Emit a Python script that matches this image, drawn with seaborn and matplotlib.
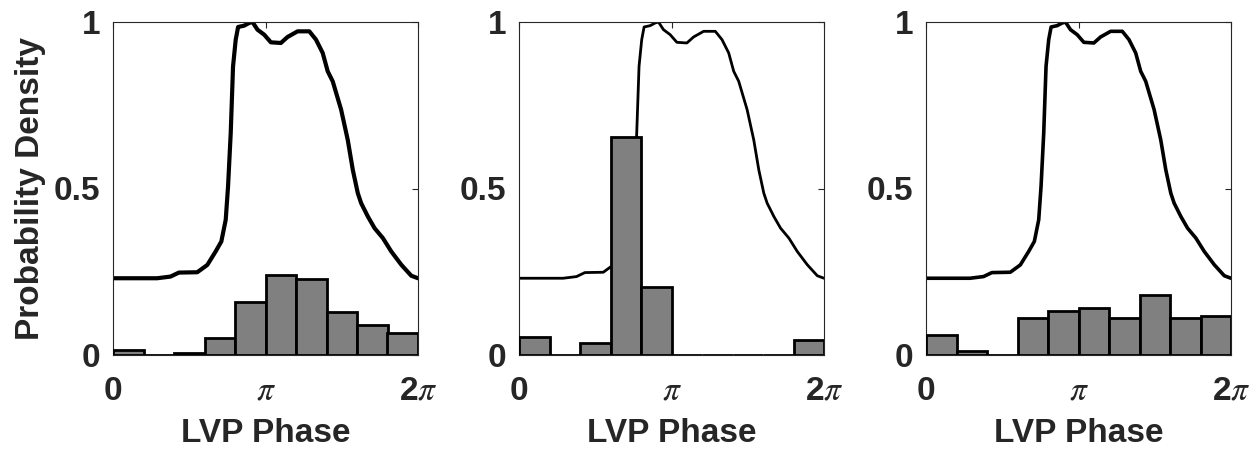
import numpy as np
import pandas as pd
import matplotlib
matplotlib.use("Agg")
import matplotlib.pyplot as plt
import seaborn as sns

# ---------------- data ----------------
bin_edges = list(np.linspace(0, 2 * np.pi, 11))
bin_centers = [(a + b) / 2 for a, b in zip(bin_edges[:-1], bin_edges[1:])]

hist_panel1 = [0.015, 0.0, 0.007, 0.052, 0.160, 0.240, 0.228, 0.130, 0.090, 0.065]
hist_panel2 = [0.055, 0.0, 0.035, 0.656, 0.205, 0.0, 0.0, 0.0, 0.0, 0.045]
hist_panel3 = [0.060, 0.013, 0.0, 0.110, 0.132, 0.140, 0.112, 0.180, 0.112, 0.117]

curve_phase = [0.0, 0.427, 0.909, 1.185, 1.357, 1.736, 1.943, 2.115, 2.232, 2.322,
               2.370, 2.425, 2.473, 2.528, 2.577, 2.701, 2.804, 2.873, 2.976, 3.114,
               3.252, 3.458, 3.596, 3.803, 4.044, 4.182, 4.320, 4.423, 4.526, 4.699,
               4.836, 4.940, 5.043, 5.112, 5.250, 5.388, 5.560, 5.732, 5.939, 6.145,
               6.283]
curve_density = [0.2305, 0.2305, 0.2305, 0.2355, 0.2475, 0.2485, 0.2705, 0.311, 0.341, 0.406,
                 0.506, 0.666, 0.867, 0.947, 0.985, 0.989, 0.997, 1.000, 0.977, 0.962,
                 0.939, 0.937, 0.955, 0.972, 0.972, 0.947, 0.907, 0.852, 0.822, 0.737,
                 0.646, 0.556, 0.486, 0.456, 0.416, 0.381, 0.351, 0.311, 0.271, 0.238,
                 0.2305]

xtick_vals = [0, np.pi, 2 * np.pi]
xtick_labels = ["0", r"$\pi$", r"2$\pi$"]
ytick_vals = [0, 0.5, 1]
ytick_labels = ["0", "0.5", "1"]

panels = [hist_panel1, hist_panel2, hist_panel3]
line_widths = [3.0, 2.0, 2.6]

# ---------------- style ----------------
sns.set_theme(style="white")
plt.rcParams["font.family"] = ["Liberation Sans", "DejaVu Sans"]
plt.rcParams["font.weight"] = "bold"
plt.rcParams["mathtext.fontset"] = "custom"
plt.rcParams["mathtext.rm"] = "Liberation Sans:bold"
plt.rcParams["mathtext.bf"] = "Liberation Sans:bold"
plt.rcParams["mathtext.it"] = "STIXGeneral:italic:normal"
plt.rcParams["mathtext.fallback"] = "stix"
txt_color = "#262626"

fig = plt.figure(figsize=(12.53, 4.49), dpi=100)
lefts = [113 / 1253, 519 / 1253, 926 / 1253]
width = 305 / 1253
bottom = 94 / 449
height = 333 / 449

for i, (vals, lw) in enumerate(zip(panels, line_widths)):
    ax = fig.add_axes([lefts[i], bottom, width, height])
    sns.lineplot(x=curve_phase, y=curve_density, ax=ax, color="black",
                 linewidth=lw, zorder=1, sort=False)
    df = pd.DataFrame({"phase": bin_centers, "dens": vals})
    sns.histplot(data=df, x="phase", weights="dens", bins=bin_edges, ax=ax,
                 color="#808080", edgecolor="black", linewidth=2.0,
                 alpha=1, zorder=3)
    ax.set_xlim(0, 2 * np.pi)
    ax.set_ylim(0, 1)
    ax.set_xticks(xtick_vals)
    ax.set_xticklabels(xtick_labels)
    ax.set_yticks(ytick_vals)
    ax.set_yticklabels(ytick_labels)
    ax.tick_params(direction="in", length=4, width=0.8, color=txt_color,
                   top=True, right=True, labelsize=24, labelcolor=txt_color)
    ax.tick_params(axis="x", pad=15)
    ax.tick_params(axis="y", pad=9)
    for lab in ax.get_xticklabels() + ax.get_yticklabels():
        lab.set_fontweight("bold")
    for sp in ax.spines.values():
        sp.set_visible(True)
        sp.set_color(txt_color)
        sp.set_linewidth(0.8)
    ax.set_xlabel("LVP Phase", fontsize=24, fontweight="bold",
                  color=txt_color, labelpad=8)
    if i == 0:
        ax.set_ylabel("Probability Density", fontsize=24, fontweight="bold",
                      color=txt_color, labelpad=6)
    else:
        ax.set_ylabel("")

fig.savefig("out.png", dpi=100)
